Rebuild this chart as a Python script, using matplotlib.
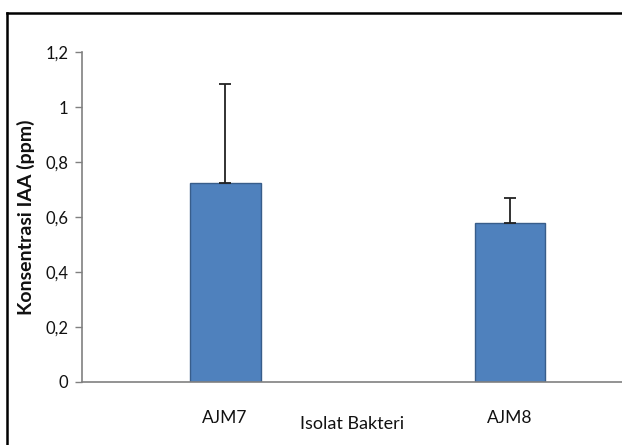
import matplotlib
matplotlib.use("Agg")
from matplotlib import pyplot as plt
from matplotlib.lines import Line2D

# data
categories = ["AJM7", "AJM8"]
iaa_ppm = [0.722, 0.579]
iaa_err = [0.361, 0.091]
yticks = [0, 0.2, 0.4, 0.6, 0.8, 1.0, 1.2]
ytick_labels = ["0", "0,2", "0,4", "0,6", "0,8", "1", "1,2"]

W, H = 622, 445
plt.rcParams["font.family"] = ["Lato", "DejaVu Sans"]

fig = plt.figure(figsize=(W / 100, H / 100), dpi=100)
ax = fig.add_axes([82 / W, (H - 382) / H, (W - 82) / W, 330 / H])

x = list(range(len(categories)))
ax.bar(x, iaa_ppm, width=0.249, color="#4F81BD", edgecolor="#385D8A", linewidth=1.0, zorder=2)
ax.errorbar(x, iaa_ppm, yerr=[[0] * len(iaa_err), iaa_err], fmt="none",
            ecolor="#222222", elinewidth=1.3, capsize=4, capthick=1.3, zorder=3)

ax.set_xlim(-0.502, 1.393)
ax.set_ylim(0, 1.2)
ax.set_yticks(yticks)
ax.set_yticklabels(ytick_labels, fontsize=12, color="#111111")
ax.set_xticks(x)
ax.set_xticklabels(categories, fontsize=12.5, color="#111111")
ax.tick_params(axis="x", length=0, pad=20)
ax.tick_params(axis="y", length=5, width=1, color="#808080", pad=5)

for s in ["top", "right"]:
    ax.spines[s].set_visible(False)
for s in ["left", "bottom"]:
    ax.spines[s].set_color("#808080")
    ax.spines[s].set_linewidth(1.2)

ax.set_ylabel("Konsentrasi IAA (ppm)", fontsize=14, fontweight="bold", color="#111111")
ax.yaxis.set_label_coords(-(82 - 26) / (W - 82), 0.5)
ax.yaxis.label.set_verticalalignment("center")
ax.set_xlabel("Isolat Bakteri", fontsize=13, color="#111111")
ax.xaxis.set_label_coords(0.5, -(424 - 382) / 330)
ax.xaxis.label.set_verticalalignment("center")

# black frame around the chart (cropped on right and bottom)
fig.add_artist(Line2D([7.5 / W, 7.5 / W], [0, (H - 12.5) / H], color="black", linewidth=1.8))
fig.add_artist(Line2D([7.5 / W, 1], [(H - 12.5) / H, (H - 12.5) / H], color="black", linewidth=1.8))

fig.savefig("out.png", dpi=100)
